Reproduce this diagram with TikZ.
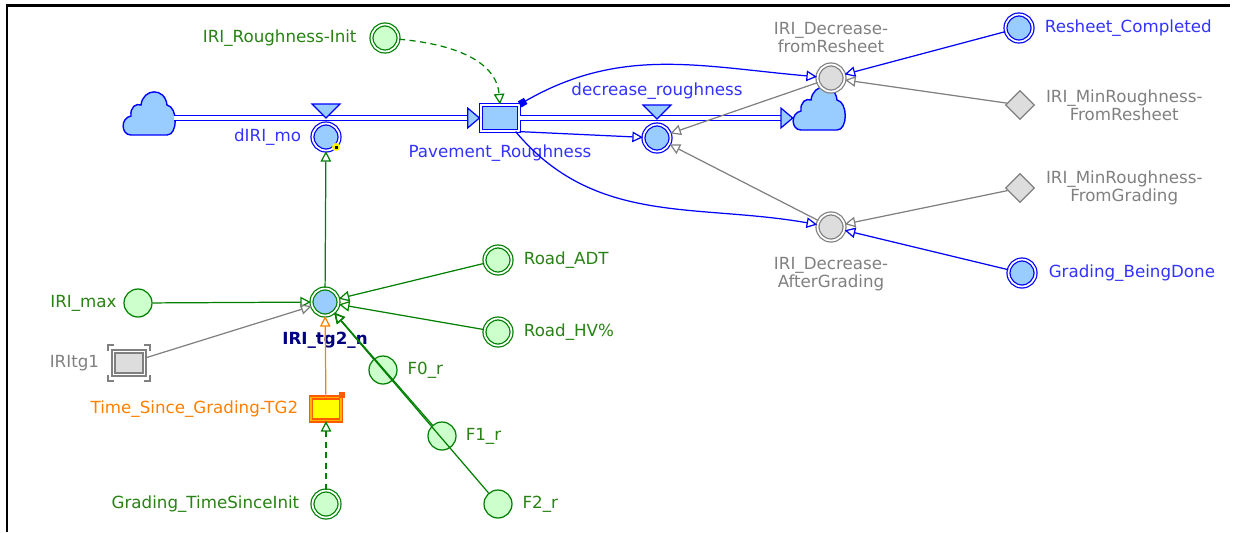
\documentclass[tikz,border=0pt]{standalone}
\usepackage{fontspec}
\setmainfont{DejaVu Sans}
\usetikzlibrary{arrows.meta,shapes.geometric,calc}

\definecolor{flowblue}{RGB}{0,0,255}
\definecolor{flowfill}{RGB}{153,204,255}
\definecolor{flowtext}{RGB}{51,51,255}
\definecolor{auxgreen}{RGB}{0,128,0}
\definecolor{auxfill}{RGB}{204,255,204}
\definecolor{auxtext}{RGB}{40,130,20}
\definecolor{ghostgray}{RGB}{128,128,128}
\definecolor{ghostfill}{RGB}{221,221,221}
\definecolor{tgorange}{RGB}{255,128,0}
\definecolor{tgborder}{RGB}{255,90,0}
\definecolor{tgyellow}{RGB}{255,255,0}
\definecolor{tgnavy}{RGB}{0,0,128}

\tikzset{
  sdcloud/.pic={
    \draw[flowblue, fill=flowfill, line width=0.8pt] (-18,20) .. controls (-28,20) and (-29,3) .. (-18,1)
      .. controls (-19,-8) and (-13,-12) .. (-8,-10)
      .. controls (-6,-27) and (16,-28) .. (18,-10)
      .. controls (29,-8) and (29,20) .. (18,20) -- cycle;
  },
  cloudbox/.style={minimum width=1cm, minimum height=0.86cm, inner sep=0pt},
  stockbox/.style={rectangle, draw=flowblue, fill=flowfill, double, double distance=1pt, line width=0.7pt,
    minimum width=0.76cm, minimum height=0.52cm, inner sep=0pt},
  pipe/.style={draw=flowblue, double=white, double distance=1.9pt, line width=0.7pt},
  pipehead/.style={draw=flowblue, line width=0.7pt, -{Triangle[length=7.5pt, width=12.5pt, fill=flowfill]}},
  valve/.style={draw=flowblue, fill=flowfill, line width=0.7pt},
  auxbase/.style={circle, inner sep=0pt, line width=0.7pt},
  greenaux/.style={auxbase, minimum size=0.54cm, draw=auxgreen, fill=auxfill, double, double distance=1pt},
  greenconst/.style={auxbase, minimum size=0.56cm, draw=auxgreen, fill=auxfill},
  blueaux/.style={auxbase, minimum size=0.54cm, draw=flowblue, fill=flowfill, double, double distance=1pt},
  grayaux/.style={auxbase, minimum size=0.54cm, draw=ghostgray, fill=ghostfill, double, double distance=1pt},
  convaux/.style={auxbase, minimum size=0.54cm, draw=auxgreen, fill=flowfill, double, double distance=1pt},
  graydiamond/.style={diamond, draw=ghostgray, fill=ghostfill, line width=0.7pt, minimum size=0.58cm, inner sep=0pt},
  ghostbox/.style={rectangle, draw=ghostgray, fill=ghostfill, double, double distance=1pt, line width=0.7pt,
    minimum width=0.62cm, minimum height=0.46cm, inner sep=0pt},
  timebox/.style={rectangle, draw=tgborder, fill=tgyellow, double=tgorange!60!yellow, double distance=1pt,
    line width=0.7pt, minimum width=0.6cm, minimum height=0.46cm, inner sep=0pt},
  lblgreen/.style={text=auxtext},
  lblblue/.style={text=flowtext},
  lblgray/.style={text=ghostgray},
  conn/.style={line width=0.7pt, -{Triangle[open, length=6pt, width=6pt]}},
  tailconn/.style={line width=0.7pt, {Square[length=4pt, width=4pt]}-{Triangle[open, length=6pt, width=6pt]}},
  dashconn/.style={dash pattern=on 3.5pt off 2.5pt}
}

\begin{document}
\begin{tikzpicture}[x=0.02cm, y=-0.02cm, font=\fontsize{9.5}{8.5}\selectfont, every label/.style={inner sep=1pt}]
  \useasboundingbox (0,0) rectangle (1243,532);
  \draw[line width=1.5pt] (7,532) -- (7,5.5) -- (1230,5.5);

  % clouds, level and pipes
  \node[cloudbox] (srccloud) at (149,115) {};
  \node[cloudbox] (sinkcloud) at (819,110) {};
  \foreach \c in {srccloud,sinkcloud} \pic at (\c) {sdcloud};
  \node[stockbox, label={[lblblue, label distance=6.5pt]below:Pavement\_Roughness}] (stock) at (500,118) {};
  \draw[pipe, shorten >=7pt] (srccloud.east |- stock) -- (stock.west);
  \draw[pipehead] ($(stock.west)+(-1,0)$) -- (stock.west);
  \draw[pipe, shorten >=7pt] (stock.east) -- (stock.east -| sinkcloud.west);
  \draw[pipehead] ($(stock.east -| sinkcloud.west)+(-1,0)$) -- (stock.east -| sinkcloud.west);

  % flows
  \node[blueaux, label={[lblblue, label distance=5pt]left:dIRI\_mo}] (diri) at (326,137) {};
  \node[blueaux, label={[lblblue, label distance=13pt]above:decrease\_roughness}] (decrough) at (657,138) {};
  \foreach \v in {diri,decrough}
    \draw[valve] (\v) ++(-14,-33) -- ++(28,0) -- ++(-14,14) -- cycle;
  \fill[yellow] ($(diri)+(10,10)$) circle[radius=4];
  \fill[black] ($(diri)+(8.5,8.5)$) rectangle ++(3,3);

  % top right
  \node[greenaux, label={[lblgreen, label distance=7pt]left:IRI\_Roughness-Init}] (roughinit) at (385,38) {};
  \node[grayaux, label={[lblgray, align=center, label distance=5pt]above:IRI\_Decrease-\\fromResheet}] (resheetdec) at (831,78) {};
  \node[blueaux, label={[lblblue, label distance=5.5pt]right:Resheet\_Completed}] (resheetdone) at (1019,28) {};
  \node[graydiamond, label={[lblgray, align=center, label distance=5pt]right:IRI\_MinRoughness-\\FromResheet}] (minresheet) at (1020,105) {};
  \node[graydiamond, label={[lblgray, align=center, label distance=5pt]right:IRI\_MinRoughness-\\FromGrading}] (mingrading) at (1020,188) {};
  \node[grayaux, label={[lblgray, align=center, label distance=8pt]below:IRI\_Decrease-\\AfterGrading}] (gradingdec) at (831,227) {};
  \node[blueaux, label={[lblblue, label distance=6pt]right:Grading\_BeingDone}] (gradingdone) at (1022,273) {};

  % bottom left
  \node[convaux, label={[text=tgnavy, font=\fontsize{9.5}{8.5}\selectfont\bfseries, label distance=8pt]below:IRI\_tg2\_n}] (tg2n) at (325,302) {};
  \node[greenconst, label={[lblgreen, label distance=2.7pt]left:IRI\_max}] (irimax) at (138,303) {};
  \node[ghostbox, label={[lblgray, label distance=6.7pt]left:IRItg1}] (iritg1) at (129,363) {};
  \foreach \cx/\cy/\dx/\dy in {-21/-18/6/6, 21/-18/-6/6, 21/18/-6/-6, -21/18/6/-6}
    \draw[ghostgray, line width=0.8pt] ($(iritg1)+(\cx,\cy)$) coordinate (c) +(0,\dy) -- (c) -- +(\dx,0);
  \node[timebox, label={[text=tgorange, label distance=5.8pt]left:Time\_Since\_Grading-TG2}] (timegrading) at (326,409) {};
  \fill[tgborder] ($(timegrading.north east)+(-3,-5)$) rectangle ++(6,6);
  \node[greenaux, label={[lblgreen, label distance=6pt]left:Grading\_TimeSinceInit}] (gradinginit) at (326,504) {};
  \node[greenaux, label={[lblgreen, label distance=5.5pt]right:Road\_ADT}] (roadadt) at (498,260) {};
  \node[greenaux, label={[lblgreen, label distance=5.5pt]right:Road\_HV\%}] (roadhv) at (498,332) {};
  \node[greenconst, label={[lblgreen, label distance=4.5pt]right:F0\_r}] (fzero) at (383,370) {};
  \node[greenconst, label={[lblgreen, label distance=4pt]right:F1\_r}] (fone) at (442,436) {};
  \node[greenconst, label={[lblgreen, label distance=4.5pt]right:F2\_r}] (ftwo) at (498,504) {};

  % connectors
  \draw[conn, auxgreen, dashconn] (roughinit) to[out=-5,in=95] (stock.north);
  \draw[tailconn, flowblue] (stock.north east) to[out=30,in=175] (resheetdec);
  \draw[conn, flowblue] ($(stock.south east)+(-4,0)$) to[out=-50,in=170] (gradingdec);
  \draw[conn, flowblue] (stock.south east) -- (decrough);
  \draw[conn, flowblue] (resheetdone) -- (resheetdec);
  \draw[conn, ghostgray] (minresheet) -- (resheetdec);
  \draw[conn, ghostgray] (resheetdec) -- (decrough);
  \draw[conn, ghostgray] (gradingdec) -- (decrough);
  \draw[conn, ghostgray] (mingrading) -- (gradingdec);
  \draw[conn, flowblue] (gradingdone) -- (gradingdec);
  \draw[conn, auxgreen] (tg2n) -- (diri);
  \draw[conn, auxgreen] (irimax) -- (tg2n);
  \draw[conn, ghostgray] (iritg1) -- (tg2n);
  \draw[conn, auxgreen] (roadadt) -- (tg2n);
  \draw[conn, auxgreen] (roadhv) -- (tg2n);
  \foreach \f in {fzero,fone,ftwo} \draw[conn, auxgreen] (\f) -- (tg2n);
  \draw[conn, tgorange] (timegrading) -- (tg2n);
  \draw[conn, auxgreen, dashconn] (gradinginit) -- (timegrading);
\end{tikzpicture}
\end{document}
